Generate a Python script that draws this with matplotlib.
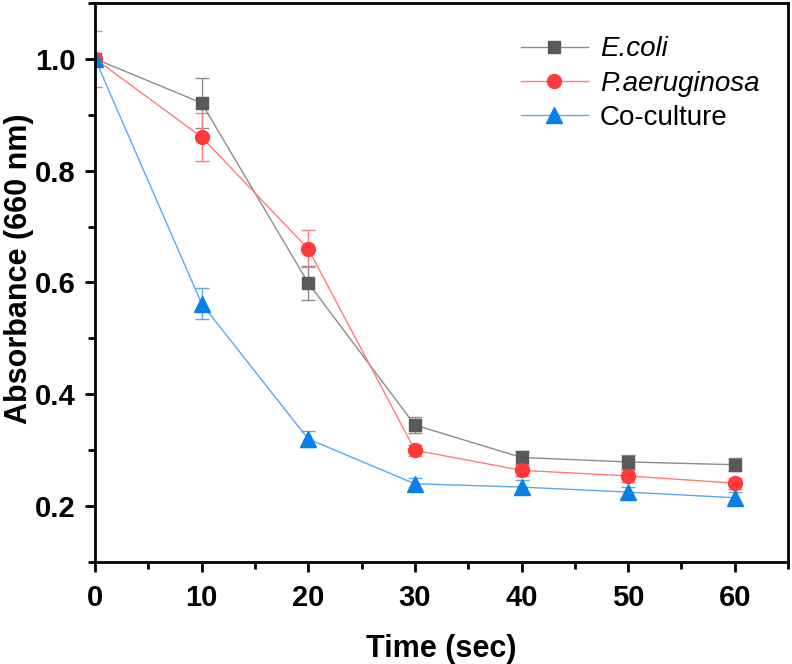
import matplotlib
matplotlib.use("Agg")
import matplotlib.pyplot as plt
from matplotlib.lines import Line2D
from matplotlib.ticker import MultipleLocator

plt.rcParams["font.family"] = ["Liberation Sans", "DejaVu Sans"]

time_s = [0, 10, 20, 30, 40, 50, 60]

ecoli = [1.0, 0.921, 0.599, 0.345, 0.287, 0.279, 0.274]
ecoli_err = [0.0, 0.045, 0.03, 0.015, 0.012, 0.012, 0.012]

paer = [1.0, 0.86, 0.66, 0.30, 0.264, 0.254, 0.241]
paer_err = [0.05, 0.043, 0.033, 0.01, 0.01, 0.01, 0.01]

coc = [1.0, 0.562, 0.32, 0.24, 0.234, 0.225, 0.215]
coc_err = [0.0, 0.028, 0.015, 0.01, 0.012, 0.01, 0.01]

labels = ["E.coli", "P.aeruginosa", "Co-culture"]
italic = [True, True, False]

fig = plt.figure(figsize=(7.92, 6.64), dpi=100)
ax = fig.add_axes([0.12, 0.1536, 0.875, 0.842])

series = [
    (ecoli, ecoli_err, "#595959", "#8c8c8c", "s", 9, labels[0]),
    (paer, paer_err, "#ff3838", "#ff7a7a", "o", 10, labels[1]),
    (coc, coc_err, "#0a7fe6", "#5aa8f0", "^", 11, labels[2]),
]
handles = []
for y, err, c, lc, m, ms, lab in series:
    ax.errorbar(time_s, y, yerr=err, color=lc, ecolor=lc, elinewidth=1,
                capsize=5, capthick=1, lw=1, marker=m, ms=ms,
                mfc=c, mec=c)
    handles.append(Line2D([], [], color=lc, lw=1, marker=m, ms=ms,
                          mfc=c, mec=c, label=lab))

ax.set_xlim(0, 65)
ax.set_ylim(0.1, 1.1)
ax.xaxis.set_major_locator(MultipleLocator(10))
ax.xaxis.set_minor_locator(MultipleLocator(5))
ax.yaxis.set_minor_locator(MultipleLocator(0.1))
ax.set_yticks([0.2, 0.4, 0.6, 0.8, 1.0])
ax.set_xticks(time_s)

for s in ax.spines.values():
    s.set_linewidth(2)
ax.tick_params(which="major", length=7, width=2, labelsize=21, direction="out")
ax.tick_params(axis="y", which="major", pad=7)
ax.tick_params(axis="x", which="major", pad=9)
ax.tick_params(which="minor", length=5, width=2, direction="out")
for t in ax.get_xticklabels() + ax.get_yticklabels():
    t.set_fontweight("bold")

ax.set_xlabel("Time (sec)", fontsize=22, fontweight="bold", labelpad=16)
ax.set_ylabel("Absorbance (660 nm)", fontsize=22, fontweight="bold")
ax.yaxis.set_label_coords(-0.088, 0.525)

leg = ax.legend(handles=handles, loc="upper right", bbox_to_anchor=(0.995, 0.985),
                frameon=False, fontsize=20, handlelength=2.4, handletextpad=0.45,
                labelspacing=0.3)
for txt, it in zip(leg.get_texts(), italic):
    if it:
        txt.set_fontstyle("italic")

fig.savefig("out.png", dpi=100)
